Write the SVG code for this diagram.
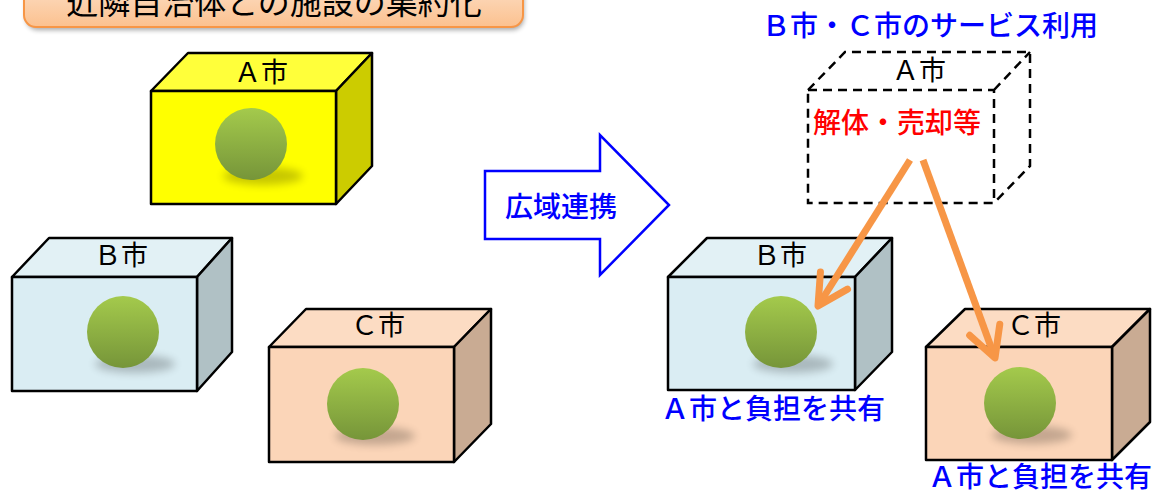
<svg xmlns="http://www.w3.org/2000/svg" width="1159" height="493" viewBox="0 0 1159 493">
<defs>
<style>
.t{font-family:"Noto Sans CJK JP","Noto Sans",sans-serif;text-anchor:middle;font-weight:400}
.lbl{font-size:27px;fill:#000}
.blue{fill:#0000ff;font-size:28px;font-weight:500}
.red{fill:#ff0000;font-size:28px;font-weight:500}
.edge{stroke:#000;stroke-width:2.5;stroke-linejoin:round}
.dash{fill:none;stroke:#000;stroke-width:2.5;stroke-dasharray:9 6}
.conn{fill:none;stroke:#f79646;stroke-width:7}
</style>
<linearGradient id="ball" x1="0" y1="0" x2="0" y2="1">
<stop offset="0" stop-color="#a4ca4c"/>
<stop offset="1" stop-color="#769539"/>
</linearGradient>
<linearGradient id="title" x1="0" y1="0" x2="0" y2="1">
<stop offset="0" stop-color="#fde2cc"/>
<stop offset="1" stop-color="#fbc18f"/>
</linearGradient>
<filter id="blur" x="-50%" y="-100%" width="200%" height="300%"><feGaussianBlur stdDeviation="4"/></filter>
<filter id="sh" x="-10%" y="-30%" width="120%" height="160%"><feGaussianBlur stdDeviation="2.5"/></filter>
<marker id="head" markerUnits="userSpaceOnUse" markerWidth="60" markerHeight="60" viewBox="-40 -30 60 60" refX="0" refY="0" orient="auto">
<path d="M -30 -16 L 0 0 L -30 16" fill="none" stroke="#f79646" stroke-width="7" stroke-linecap="round" stroke-linejoin="round"/>
</marker>
<g id="sphere">
<ellipse cx="12" cy="32" rx="40" ry="9" fill="#000" opacity="0.22" filter="url(#blur)"/>
<circle cx="0" cy="0" r="36" fill="url(#ball)"/>
</g>
</defs>
<rect width="1159" height="493" fill="#fff"/>

<g id="title-box">
<rect x="26" y="-20" width="498" height="50" rx="12" fill="#000" opacity="0.35" filter="url(#sh)"/>
<rect x="24" y="-22" width="499" height="49" rx="12" fill="url(#title)" stroke="#f79646" stroke-width="2"/>
<text class="t" x="274" y="14" font-size="32" fill="#000">近隣自治体との施設の集約化</text>
</g>

<g id="boxA">
<path class="edge" d="M151 91 L188 53 L372 53 L336 91 Z" fill="#ffff3a"/>
<path class="edge" d="M336 91 L372 53 L372 166 L336 204 Z" fill="#cccc00"/>
<rect class="edge" x="151" y="91" width="185" height="113" fill="#ffff00"/>
<use href="#sphere" x="251" y="144"/>
<text class="t lbl" x="261" y="82">Ａ市</text>
</g>

<g id="boxB">
<path class="edge" d="M12 277 L49 238 L232 238 L197 277 Z" fill="#e2f1f5"/>
<path class="edge" d="M197 277 L232 238 L232 352 L197 391 Z" fill="#b0c1c5"/>
<rect class="edge" x="12" y="277" width="185" height="114" fill="#daedf3"/>
<use href="#sphere" x="123" y="332"/>
<text class="t lbl" x="121" y="265">Ｂ市</text>
</g>

<g id="boxC">
<path class="edge" d="M269 347 L306 309 L491 309 L454 347 Z" fill="#fcdcc3"/>
<path class="edge" d="M454 347 L491 309 L491 424 L454 462 Z" fill="#c9ab93"/>
<rect class="edge" x="269" y="347" width="185" height="115" fill="#fbd5b8"/>
<use href="#sphere" x="363" y="404"/>
<text class="t lbl" x="378" y="335">Ｃ市</text>
</g>

<g id="kouiki">
<path d="M485 171 L600 171 L600 135 L669 205 L600 275 L600 239 L485 239 Z" fill="#fff" stroke="#0000ff" stroke-width="2.5" stroke-linejoin="miter"/>
<text class="t blue" x="561" y="217">広域連携</text>
</g>

<g id="service-label">
<text class="t blue" x="930" y="36">Ｂ市・Ｃ市のサービス利用</text>
</g>

<g id="boxA-dashed">
<path class="dash" d="M808 90 L845 52 L1030 52 L1030 166 L994 203 L808 203 Z"/>
<path class="dash" d="M808 90 L994 90 L994 203 M994 90 L1030 52"/>
<text class="t lbl" x="919" y="80">Ａ市</text>
<text class="t red" x="897" y="133">解体・売却等</text>
</g>

<g id="boxB2">
<path class="edge" d="M668 277 L707 238 L892 238 L855 277 Z" fill="#e2f1f5"/>
<path class="edge" d="M855 277 L892 238 L892 352 L855 390 Z" fill="#b0c1c5"/>
<rect class="edge" x="668" y="277" width="187" height="113" fill="#daedf3"/>
<use href="#sphere" x="781" y="332"/>
<text class="t lbl" x="780" y="265">Ｂ市</text>
<text class="t blue" x="773" y="419">Ａ市と負担を共有</text>
</g>

<g id="boxC2">
<path class="edge" d="M926 347 L965 309 L1150 309 L1112 347 Z" fill="#fcdcc3"/>
<path class="edge" d="M1112 347 L1150 309 L1150 422 L1112 460 Z" fill="#c9ab93"/>
<rect class="edge" x="926" y="347" width="186" height="113" fill="#fbd5b8"/>
<use href="#sphere" x="1020" y="403"/>
<text class="t lbl" x="1034" y="335">Ｃ市</text>
<text class="t blue" x="1040" y="487">Ａ市と負担を共有</text>
</g>

<g id="connectors">
<line class="conn" x1="910" y1="160" x2="818" y2="306" marker-end="url(#head)"/>
<line class="conn" x1="923" y1="160" x2="995" y2="358" marker-end="url(#head)"/>
</g>
</svg>
